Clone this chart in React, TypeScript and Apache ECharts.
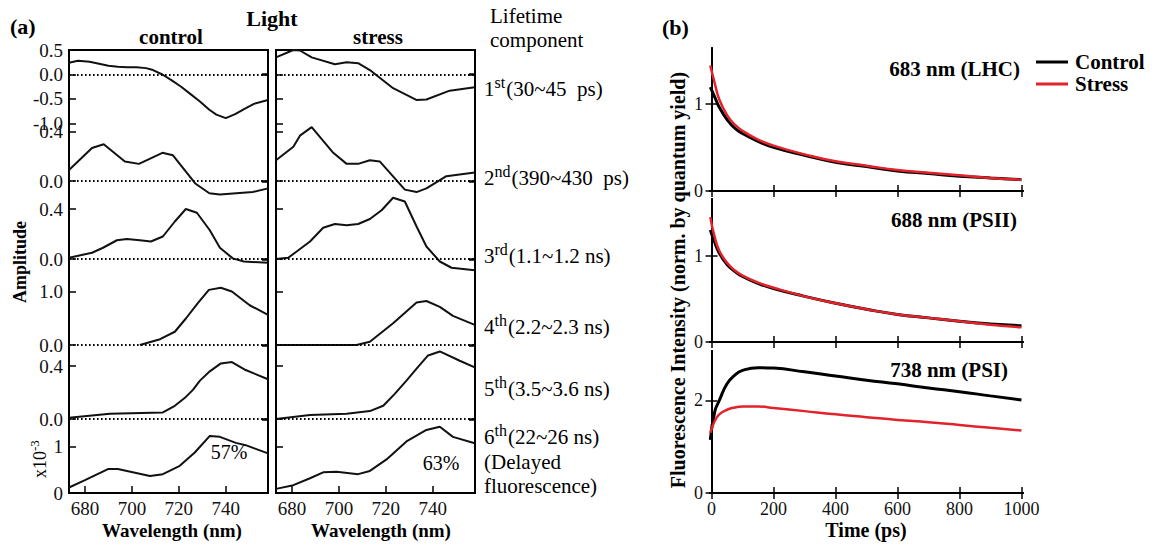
import React, { useEffect, useRef } from "react";
import * as echarts from "echarts";

type Pt = [number, number];

// ---------------- Panel (a): amplitude spectra (wavelength nm, amplitude)
const wavelengthTicks = [680, 700, 720, 740];

const control1st: Pt[] = [[673.2, 0.24], [677, 0.28], [682, 0.26], [686, 0.22], [690, 0.18], [694, 0.16], [698, 0.15], [702, 0.15], [706, 0.13], [709, 0.09], [713, 0.0], [717, -0.12], [721, -0.25], [725, -0.4], [729, -0.55], [733, -0.72], [736, -0.82], [740, -0.89], [744, -0.81], [748, -0.7], [752, -0.6], [758, -0.52]];
const control2nd: Pt[] = [[673.2, 0.09], [683, 0.27], [688, 0.3], [697, 0.16], [703, 0.14], [713, 0.23], [717.5, 0.21], [727, -0.02], [733, -0.1], [737.5, -0.11], [751.5, -0.09], [758, -0.06]];
const control3rd: Pt[] = [[673.2, 0.01], [683, 0.05], [687.7, 0.09], [693.6, 0.15], [697.9, 0.16], [703.4, 0.15], [708.1, 0.14], [713.2, 0.18], [718.3, 0.3], [723, 0.4], [727.7, 0.37], [733.2, 0.23], [737.5, 0.09], [743, 0.005], [747.7, -0.02], [758, -0.03]];
const control4th: Pt[] = [[703.4, 0], [712, 0.11], [718.3, 0.25], [723, 0.5], [728.1, 0.79], [732.8, 1.04], [737.9, 1.08], [742.6, 1.01], [750.2, 0.75], [758, 0.57]];
const control5th: Pt[] = [[673.2, 0.01], [690.6, 0.04], [713.2, 0.05], [718.3, 0.1], [722.6, 0.16], [726, 0.22], [729, 0.29], [733.2, 0.36], [737.9, 0.42], [742.6, 0.43], [748.5, 0.37], [758, 0.3]];
const control6th: Pt[] = [[673.2, 0.12], [680, 0.28], [689.8, 0.52], [694, 0.52], [707.7, 0.37], [713.2, 0.41], [720.4, 0.59], [726.8, 0.88], [733.2, 1.24], [737.5, 1.22], [744.3, 1.09], [748.5, 1.04], [758, 0.86]];

const stress1st: Pt[] = [[673.2, 0.35], [680.6, 0.5], [683.4, 0.49], [688.4, 0.35], [698.3, 0.21], [703.3, 0.25], [708.2, 0.23], [713.2, 0.09], [723.1, -0.28], [733, -0.52], [737.3, -0.51], [747.2, -0.33], [757.9, -0.26]];
const stress2nd: Pt[] = [[673.2, 0.17], [680.6, 0.28], [683.4, 0.37], [688.4, 0.44], [697.6, 0.23], [703.3, 0.14], [708.2, 0.14], [713.2, 0.17], [717.4, 0.16], [728.1, -0.07], [733.1, -0.09], [737.3, -0.06], [745.8, 0.04], [757.9, 0.07]];
const stress3rd: Pt[] = [[673.2, 0], [678.4, 0.01], [682, 0.06], [687.7, 0.14], [693.3, 0.25], [698.3, 0.28], [703.3, 0.27], [708.2, 0.28], [713.2, 0.32], [718.2, 0.39], [723.1, 0.49], [728.1, 0.46], [733.1, 0.26], [737.3, 0.1], [743, -0.02], [748, -0.07], [757.9, -0.09]];
const stress4th: Pt[] = [[673.2, 0], [707.5, 0], [713.2, 0.06], [723.1, 0.41], [733.1, 0.8], [737.3, 0.83], [743, 0.72], [748.6, 0.55], [757.9, 0.38]];
const stress5th: Pt[] = [[673.2, 0], [687.7, 0.03], [703.3, 0.04], [713.2, 0.06], [718.9, 0.1], [723.8, 0.19], [728.8, 0.29], [733.1, 0.38], [738, 0.48], [743, 0.51], [751.5, 0.44], [757.9, 0.39]];
const stress6th: Pt[] = [[673.2, 0.09], [680.6, 0.17], [687.7, 0.32], [693.3, 0.45], [699, 0.46], [708.2, 0.41], [713.2, 0.48], [720.3, 0.73], [728.8, 1.12], [737.3, 1.37], [743, 1.44], [748.6, 1.22], [757.9, 1.08]];

const controlRows = [control1st, control2nd, control3rd, control4th, control5th, control6th];
const stressRows = [stress1st, stress2nd, stress3rd, stress4th, stress5th, stress6th];
const rowTickValues = [[0.5, 0, -0.5, -1], [0.4, 0], [0.4, 0], [1, 0], [0.4, 0], [1, 0]];
const rowTickDigits = [1, 1, 1, 1, 1, 0];

const componentLabels: [string, string, string][] = [
  ["1", "st", "(30~45  ps)"],
  ["2", "nd", "(390~430  ps)"],
  ["3", "rd", "(1.1~1.2 ns)"],
  ["4", "th", "(2.2~2.3 ns)"],
  ["5", "th", "(3.5~3.6 ns)"],
  ["6", "th", "(22~26 ns)"],
];
const delayedLabel = ["(Delayed", "fluorescence)"];
const percentLabels = ["57%", "63%"];

// ---------------- Panel (b): fluorescence decays
const timeTicks = [0, 200, 400, 600, 800, 1000];
const timePs = [-4, 10, 25, 50, 75, 100, 150, 200, 300, 400, 500, 600, 700, 800, 900, 1000];
const lhcControl = [1.19, 1.08, 0.96, 0.82, 0.72, 0.66, 0.57, 0.5, 0.41, 0.33, 0.28, 0.23, 0.2, 0.17, 0.15, 0.13];
const lhcStress = [1.44, 1.24, 1.05, 0.87, 0.76, 0.69, 0.59, 0.52, 0.42, 0.34, 0.29, 0.24, 0.21, 0.18, 0.15, 0.13];
const psiiControl = [1.3, 1.16, 1.03, 0.9, 0.82, 0.76, 0.68, 0.62, 0.53, 0.45, 0.38, 0.32, 0.28, 0.24, 0.21, 0.19];
const psiiStress = [1.45, 1.22, 1.06, 0.92, 0.83, 0.77, 0.69, 0.63, 0.53, 0.45, 0.38, 0.32, 0.28, 0.24, 0.2, 0.17];
const psiControl = [1.15, 1.75, 2.0, 2.36, 2.55, 2.65, 2.71, 2.7, 2.62, 2.53, 2.44, 2.36, 2.27, 2.19, 2.1, 2.01];
const psiStress = [1.3, 1.55, 1.7, 1.8, 1.85, 1.87, 1.87, 1.84, 1.77, 1.7, 1.64, 1.58, 1.53, 1.47, 1.41, 1.35];
const decayTitles = ["683 nm (LHC)", "688 nm (PSII)", "738 nm (PSI)"];
const decayTicks = [[0, 1], [0, 1], [0, 2]];
const decayControl = [lhcControl, psiiControl, psiControl];
const decayStress = [lhcStress, psiiStress, psiStress];

// ---------------- layout
const SERIF = "'Liberation Serif', 'Times New Roman', serif";
const A_COLS = [{ left: 69, right: 268 }, { left: 276, right: 475 }];
const A_ROWS = [
  { top: 50, bottom: 125, min: -1.031, max: 0.5, zero: true },
  { top: 125, bottom: 196, min: -0.122, max: 0.457, zero: true },
  { top: 196, bottom: 272, min: -0.104, max: 0.504, zero: true },
  { top: 272, bottom: 350, min: -0.094, max: 1.377, zero: true },
  { top: 350, bottom: 425, min: -0.045, max: 0.521, zero: true },
  { top: 425, bottom: 493, min: 0, max: 1.478, zero: false },
];
const A_XMIN = 673.2;
const A_XMAX = 758;
const B_LEFT = 710;
const B_RIGHT = 1023;
const B_ROWS = [
  { top: 48, bottom: 191, max: 1.64, titleY: 69, titleRight: 1020 },
  { top: 199, bottom: 342, max: 1.66, titleY: 220, titleRight: 1017 },
  { top: 351, bottom: 493, max: 3.07, titleY: 370, titleRight: 1008 },
];
const RED = "#e3232c";

let measureCtx: CanvasRenderingContext2D | null = null;
function textWidth(text: string, size: number, weight = "normal") {
  if (!measureCtx) measureCtx = document.createElement("canvas").getContext("2d");
  if (!measureCtx) return text.length * size * 0.5;
  measureCtx.font = `${weight} ${size}px "Liberation Serif"`;
  return measureCtx.measureText(text).width;
}

function txt(x: number, y: number, text: string, size: number, opts: any = {}) {
  const align = opts.align || "left";
  const valign = opts.valign || "middle";
  return {
    type: "text",
    x,
    y,
    rotation: opts.rotation || 0,
    silent: true,
    style: {
      text,
      fontSize: size,
      fontFamily: SERIF,
      fontWeight: opts.weight || "normal",
      fill: opts.color || "#000",
      align,
      verticalAlign: valign,
      textAlign: align,
      textVerticalAlign: valign,
    },
  };
}

function buildOption() {
  const grids: any[] = [];
  const xAxes: any[] = [];
  const yAxes: any[] = [];
  const series: any[] = [];
  const tickStyle = { color: "#000", width: 1.5 };
  const labelBase = { fontFamily: SERIF, color: "#111" };

  // Panel (a)
  A_COLS.forEach((col, c) => {
    const rowsData = c === 0 ? controlRows : stressRows;
    A_ROWS.forEach((row, r) => {
      const g = grids.length;
      grids.push({
        left: col.left,
        top: row.top,
        width: col.right - col.left,
        height: row.bottom - row.top,
        containLabel: false,
        outerBoundsMode: "none",
      });
      const isBottom = r === A_ROWS.length - 1;
      xAxes.push({
        gridIndex: g,
        type: "value",
        min: A_XMIN,
        max: A_XMAX,
        show: isBottom,
        axisLine: { show: false },
        splitLine: { show: false },
        axisTick: { show: true, inside: true, length: 7, lineStyle: tickStyle, customValues: wavelengthTicks },
        axisLabel: { show: true, customValues: wavelengthTicks, fontSize: 19, margin: 6, formatter: (v: number) => String(v), ...labelBase },
      });
      const ticks = rowTickValues[r];
      const digits = rowTickDigits[r];
      const yl = yAxes.length;
      yAxes.push({
        gridIndex: g,
        type: "value",
        position: "left",
        min: row.min,
        max: row.max,
        axisLine: { show: false },
        splitLine: { show: false },
        axisTick: { show: true, inside: true, length: 7, lineStyle: tickStyle, customValues: ticks },
        axisLabel: {
          show: c === 0,
          customValues: ticks,
          fontSize: 19,
          margin: 6,
          formatter: (v: number) => v.toFixed(digits),
          ...labelBase,
        },
      });
      yAxes.push({
        gridIndex: g,
        type: "value",
        position: "right",
        min: row.min,
        max: row.max,
        axisLine: { show: false },
        splitLine: { show: false },
        axisTick: { show: row.zero, inside: true, length: 6, lineStyle: { color: "#000", width: 2.5 }, customValues: [0] },
        axisLabel: { show: false },
      });
      series.push({
        name: `${c === 0 ? "control" : "stress"} component ${r + 1}`,
        type: "line",
        xAxisIndex: g,
        yAxisIndex: yl,
        data: rowsData[r],
        symbol: "none",
        clip: false,
        silent: true,
        lineStyle: { color: "#111", width: 2 },
        markLine: row.zero
          ? {
              silent: true,
              symbol: ["none", "none"],
              label: { show: false },
              lineStyle: { color: "#000", type: [1.6, 2.4], width: 2 },
              data: [{ yAxis: 0 }],
            }
          : undefined,
      });
    });
  });

  // Panel (b)
  B_ROWS.forEach((row, r) => {
    const g = grids.length;
    grids.push({
      left: B_LEFT,
      top: row.top,
      width: B_RIGHT - B_LEFT,
      height: row.bottom - row.top,
      containLabel: false,
      outerBoundsMode: "none",
    });
    const isBottom = r === B_ROWS.length - 1;
    const axisLine = { show: true, lineStyle: { color: "#000", width: 2 } };
    const bx = xAxes.length;
    xAxes.push({
      gridIndex: g,
      type: "value",
      position: "bottom",
      min: -5,
      max: 1005,
      axisLine,
      splitLine: { show: false },
      axisTick: { show: true, inside: true, length: 6, lineStyle: tickStyle, customValues: timeTicks },
      axisLabel: { show: isBottom, customValues: timeTicks, fontSize: 18, margin: 7, formatter: (v: number) => String(v), ...labelBase },
    });
    xAxes.push({
      gridIndex: g,
      type: "value",
      position: "top",
      min: -5,
      max: 1005,
      axisLine,
      splitLine: { show: false },
      axisTick: { show: true, inside: true, length: 6, lineStyle: tickStyle, customValues: timeTicks },
      axisLabel: { show: false },
    });
    const by = yAxes.length;
    yAxes.push({
      gridIndex: g,
      type: "value",
      position: "left",
      min: 0,
      max: row.max,
      axisLine,
      splitLine: { show: false },
      axisTick: { show: true, inside: true, length: 6, lineStyle: tickStyle, customValues: decayTicks[r] },
      axisLabel: { show: true, customValues: decayTicks[r], fontSize: 18, margin: 7, formatter: (v: number) => String(v), ...labelBase },
    });
    yAxes.push({
      gridIndex: g,
      type: "value",
      position: "right",
      min: 0,
      max: row.max,
      axisLine,
      splitLine: { show: false },
      axisTick: { show: true, inside: true, length: 6, lineStyle: tickStyle, customValues: decayTicks[r] },
      axisLabel: { show: false },
    });
    const mk = (vals: number[]) => timePs.map((t, i) => [t, vals[i]]);
    series.push({
      name: "Control",
      type: "line",
      xAxisIndex: bx,
      yAxisIndex: by,
      data: mk(decayControl[r]),
      symbol: "none",
      smooth: 0.5,
      silent: true,
      lineStyle: { color: "#000", width: 3 },
      itemStyle: { color: "#000" },
      z: 3,
    });
    series.push({
      name: "Stress",
      type: "line",
      xAxisIndex: bx,
      yAxisIndex: by,
      data: mk(decayStress[r]),
      symbol: "none",
      smooth: 0.5,
      silent: true,
      lineStyle: { color: RED, width: 2.5 },
      itemStyle: { color: RED },
      z: 4,
    });
  });

  // graphics
  const graphics: any[] = [];
  A_COLS.forEach((col) => {
    graphics.push({
      type: "rect",
      silent: true,
      shape: { x: col.left, y: A_ROWS[0].top, width: col.right - col.left, height: A_ROWS[A_ROWS.length - 1].bottom - A_ROWS[0].top },
      style: { fill: "none", stroke: "#000", lineWidth: 2 },
    });
  });
  graphics.push(txt(10, 26, "(a)", 22, { weight: "bold" }));
  graphics.push(txt(662, 27, "(b)", 22, { weight: "bold" }));
  graphics.push(txt(272, 18, "Light", 22, { weight: "bold", align: "center" }));
  graphics.push(txt(171, 37, "control", 21, { weight: "bold", align: "center" }));
  graphics.push(txt(378, 37, "stress", 21, { weight: "bold", align: "center" }));
  graphics.push(txt(490, 16, "Lifetime", 21));
  graphics.push(txt(490, 40, "component", 21));
  const compY = [89, 178, 256, 327, 389, 437];
  componentLabels.forEach((lab, i) => {
    const x0 = 484;
    const w0 = textWidth(lab[0], 21);
    const w1 = textWidth(lab[1], 16);
    graphics.push(txt(x0, compY[i], lab[0], 21));
    graphics.push(txt(x0 + w0, compY[i] - 7, lab[1], 16));
    graphics.push(txt(x0 + w0 + w1 + 1, compY[i], lab[2], 21));
  });
  graphics.push(txt(484, 462, delayedLabel[0], 21));
  graphics.push(txt(484, 486, delayedLabel[1], 21));
  graphics.push(txt(229, 452, percentLabels[0], 20, { align: "center" }));
  graphics.push(txt(441, 463, percentLabels[1], 20, { align: "center" }));
  graphics.push(txt(20, 262, "Amplitude", 18, { weight: "bold", align: "center", rotation: Math.PI / 2 }));
  // x10^-3 (rotated)
  const wx = textWidth("x10", 18);
  graphics.push({
    type: "group",
    x: 40,
    y: 478,
    rotation: Math.PI / 2,
    silent: true,
    children: [txt(0, 0, "x10", 18), txt(wx, -6, "-3", 13)],
  });
  graphics.push(txt(172, 530, "Wavelength (nm)", 19, { weight: "bold", align: "center" }));
  graphics.push(txt(381, 530, "Wavelength (nm)", 19, { weight: "bold", align: "center" }));
  graphics.push(txt(866, 530, "Time (ps)", 20, { weight: "bold", align: "center" }));
  graphics.push(
    txt(678, 280, "Fluorescence Intensity (norm. by quantum yield)", 20, { weight: "bold", align: "center", rotation: Math.PI / 2 })
  );
  B_ROWS.forEach((row, r) => {
    graphics.push(txt(row.titleRight, row.titleY, decayTitles[r], 21, { weight: "bold", align: "right" }));
  });

  return {
    animation: false,
    backgroundColor: "#fff",
    textStyle: { fontFamily: SERIF },
    grid: grids,
    xAxis: xAxes,
    yAxis: yAxes,
    series,
    legend: {
      data: ["Control", "Stress"],
      orient: "vertical",
      left: 1036,
      top: 51,
      icon: "rect",
      itemWidth: 32,
      itemHeight: 3,
      itemGap: 0,
      padding: 0,
      selectedMode: false,
      textStyle: { fontFamily: SERIF, fontWeight: "bold", fontSize: 21, color: "#000", lineHeight: 22, padding: [0, 0, 0, 2] },
    },
    graphic: graphics,
  };
}

export default function App() {
  const ref = useRef<HTMLDivElement>(null);
  useEffect(() => {
    if (!ref.current) return;
    const chart = echarts.init(ref.current, null, { renderer: "svg" });
    chart.setOption(buildOption() as any);
    return () => chart.dispose();
  }, []);
  return (
    <div
      ref={ref}
      style={{ position: "absolute", left: 0, top: 0, width: 1155, height: 546, background: "#fff" }}
    />
  );
}
